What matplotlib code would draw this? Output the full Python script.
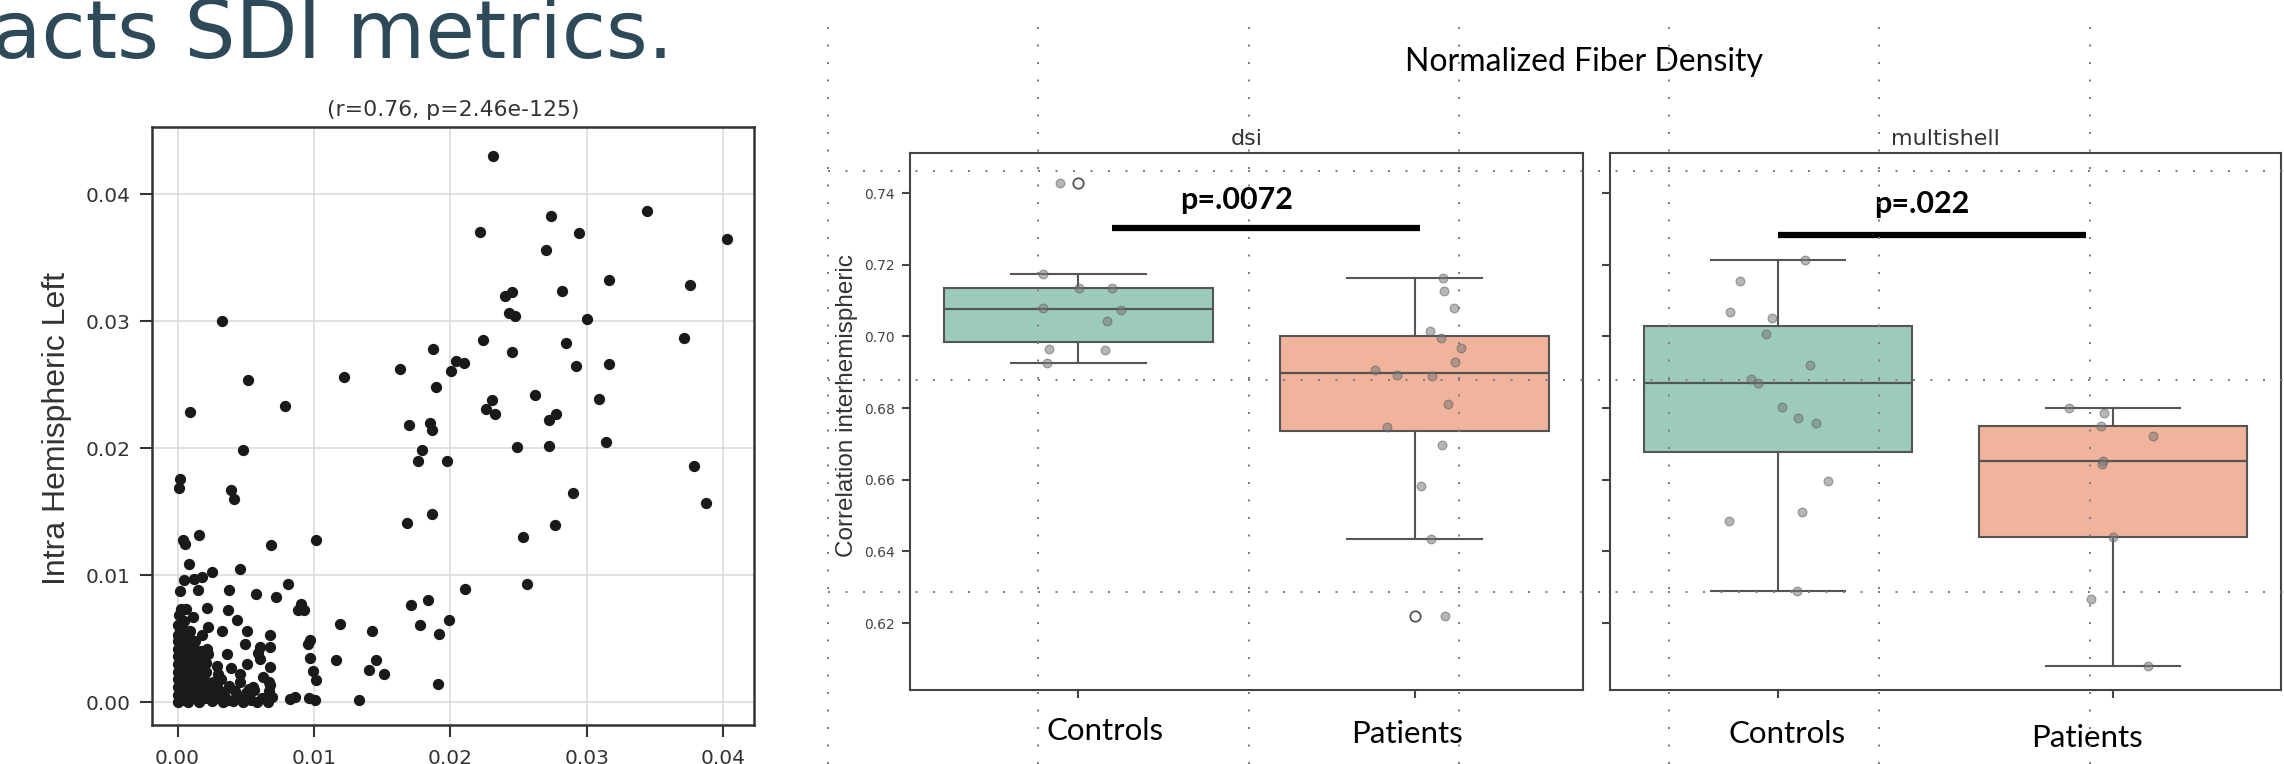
import matplotlib.pyplot as plt
from matplotlib.lines import Line2D

# ---- data ----
# scatter: spread points (x, y)
spread_pts = [
    (0.02312, 0.04302), (0.03446, 0.03868), (0.02739, 0.03831), (0.02215, 0.03706),
    (0.02944, 0.03696), (0.04029, 0.03646), (0.02705, 0.03558), (0.03161, 0.03325),
    (0.03756, 0.03288), (0.02821, 0.03238), (0.02402, 0.03198), (0.02450, 0.03233),
    (0.02428, 0.03066), (0.02477, 0.03042), (0.03004, 0.03019), (0.00329, 0.03005),
    (0.03711, 0.02868), (0.02237, 0.02855), (0.02851, 0.02831), (0.01871, 0.02783),
    (0.02454, 0.02757), (0.02039, 0.02688), (0.02103, 0.02669), (0.02005, 0.02608),
    (0.02922, 0.02648), (0.03161, 0.02661), (0.01635, 0.02622), (0.01223, 0.02561),
    (0.00516, 0.02534), (0.01893, 0.02484), (0.02619, 0.02423), (0.03094, 0.02386),
    (0.02304, 0.02382), (0.02260, 0.02308), (0.02327, 0.02268), (0.00090, 0.02282),
    (0.00786, 0.02334), (0.02727, 0.02224), (0.02776, 0.02268), (0.01698, 0.02184),
    (0.01852, 0.02197), (0.01863, 0.02145), (0.00479, 0.01987), (0.02488, 0.02013),
    (0.02727, 0.02021), (0.03139, 0.02047), (0.01792, 0.01987), (0.01766, 0.01900),
    (0.01975, 0.01903), (0.03786, 0.01863), (0.00019, 0.01755), (0.00011, 0.01684),
    (0.00389, 0.01671), (0.00412, 0.01597), (0.02899, 0.01645), (0.03872, 0.01566),
    (0.01863, 0.01482), (0.01680, 0.01408), (0.02765, 0.01395), (0.02533, 0.01297),
    (0.00041, 0.01276), (0.00056, 0.01242), (0.00161, 0.01313), (0.01018, 0.01274),
    (0.00685, 0.01240), (0.00082, 0.01092), (0.00251, 0.01026), (0.00456, 0.01050),
    (0.02559, 0.00929), (0.02110, 0.00892), (0.00812, 0.00934), (0.00050, 0.00960),
    (0.00120, 0.00966), (0.00180, 0.00982), (0.00020, 0.00874), (0.00150, 0.00880),
    (0.00380, 0.00880), (0.00576, 0.00855), (0.00722, 0.00829), (0.01837, 0.00805),
    (0.00905, 0.00771), (0.00924, 0.00729), (0.00883, 0.00724), (0.01713, 0.00768),
    (0.00026, 0.00737), (0.00064, 0.00737), (0.00217, 0.00742), (0.00370, 0.00724),
    (0.00112, 0.00671), (0.00434, 0.00645), (0.01994, 0.00650), (0.01190, 0.00618),
    (0.01777, 0.00605), (0.01429, 0.00560), (0.01915, 0.00534), (0.00329, 0.00560),
    (0.00513, 0.00560), (0.00681, 0.00526), (0.00220, 0.00592), (0.00176, 0.00526),
    (0.00020, 0.00566), (0.00973, 0.00487), (0.00954, 0.00461), (0.00494, 0.00461),
    (0.00606, 0.00434), (0.00681, 0.00434), (0.00363, 0.00382), (0.00213, 0.00421),
    (0.00969, 0.00350), (0.01163, 0.00329), (0.01459, 0.00329), (0.00606, 0.00342),
    (0.00677, 0.00276), (0.00288, 0.00284), (0.01403, 0.00250), (0.01511, 0.00218),
    (0.00991, 0.00245), (0.01018, 0.00171), (0.00456, 0.00224), (0.00318, 0.00184),
    (0.01908, 0.00145), (0.00673, 0.00158), (0.00681, 0.00132), (0.00524, 0.00105),
    (0.00561, 0.00092), (0.01328, 0.00018), (0.00823, 0.00026), (0.00860, 0.00040),
    (0.00961, 0.00034), (0.01006, 0.00013),
]
# scatter: dense group near the origin (x, y)
cluster_pts = [
    (0.0000, 0.0000), (0.0000, 0.0006), (0.0000, 0.0012), (0.0000, 0.0018), (0.0000, 0.0024),
    (0.0000, 0.0030), (0.0000, 0.0036), (0.0000, 0.0042), (0.0000, 0.0048), (0.0000, 0.0053),
    (0.0000, 0.0061), (0.0001, 0.0069),
    (0.0004, 0.0002), (0.0004, 0.0009), (0.0004, 0.0015), (0.0004, 0.0021), (0.0004, 0.0027),
    (0.0004, 0.0033), (0.0004, 0.0039), (0.0004, 0.0045), (0.0004, 0.0051), (0.0004, 0.0058),
    (0.0005, 0.0064),
    (0.0008, 0.0000), (0.0008, 0.0006), (0.0008, 0.0012), (0.0008, 0.0019), (0.0008, 0.0025),
    (0.0008, 0.0031), (0.0008, 0.0038), (0.0008, 0.0044), (0.0009, 0.0050), (0.0009, 0.0056),
    (0.0012, 0.0003), (0.0012, 0.0009), (0.0012, 0.0016), (0.0012, 0.0022), (0.0012, 0.0029),
    (0.0012, 0.0035), (0.0013, 0.0041), (0.0013, 0.0048),
    (0.0016, 0.0000), (0.0016, 0.0007), (0.0016, 0.0013), (0.0016, 0.0020), (0.0016, 0.0027),
    (0.0017, 0.0033), (0.0017, 0.0040),
    (0.0020, 0.0003), (0.0020, 0.0010), (0.0020, 0.0017), (0.0021, 0.0024), (0.0021, 0.0031),
    (0.0022, 0.0038),
    (0.0025, 0.0001), (0.0025, 0.0009), (0.0026, 0.0016), (0.0029, 0.0003), (0.0029, 0.0012),
    (0.0030, 0.0022), (0.0033, 0.0000), (0.0034, 0.0008), (0.0037, 0.0002), (0.0038, 0.0013),
    (0.0039, 0.0027), (0.0041, 0.0001), (0.0042, 0.0009), (0.0045, 0.0003), (0.0046, 0.0016),
    (0.0048, 0.0000), (0.0050, 0.0007), (0.0051, 0.0030), (0.0054, 0.0002), (0.0055, 0.0012),
    (0.0058, 0.0000), (0.0059, 0.0039), (0.0062, 0.0003), (0.0063, 0.0020), (0.0066, 0.0000),
    (0.0067, 0.0009), (0.0069, 0.0004),
]
scatter_title = "(r=0.76, p=2.46e-125)"
scatter_ticks = [0.00, 0.01, 0.02, 0.03, 0.04]

# box plots: values and horizontal jitter of the strip points
groups = ["Controls", "Patients"]
dsi_controls = [0.7427, 0.7173, 0.7136, 0.7136, 0.7078, 0.7073, 0.7043, 0.6966, 0.6961, 0.6925]
dsi_controls_jit = [-0.054, -0.106, 0.002, 0.101, -0.106, 0.127, 0.086, -0.086, 0.080, -0.092]
dsi_patients = [0.7163, 0.7127, 0.7080, 0.7014, 0.6996, 0.6968, 0.6928, 0.6905, 0.6891, 0.6889,
                0.6810, 0.6748, 0.6696, 0.6582, 0.6434, 0.6220]
dsi_patients_jit = [0.083, 0.086, 0.118, 0.045, 0.077, 0.136, 0.120, -0.117, -0.054, 0.052,
                    0.098, -0.081, 0.080, 0.019, 0.047, 0.090]
ms_controls = [0.7214, 0.7155, 0.7069, 0.7051, 0.7006, 0.6921, 0.6881, 0.6870, 0.6804, 0.6772,
               0.6758, 0.6597, 0.6511, 0.6485, 0.6289]
ms_controls_jit = [0.080, -0.112, -0.143, -0.018, -0.034, 0.095, -0.079, -0.059, 0.013, 0.061,
                   0.115, 0.150, 0.071, -0.146, 0.057]
ms_patients = [0.6800, 0.6787, 0.6751, 0.6722, 0.6653, 0.6644, 0.6441, 0.6266, 0.6080]
ms_patients_jit = [-0.131, -0.027, -0.036, 0.119, -0.031, -0.034, 0.000, -0.067, 0.104]
box_ticks = [0.62, 0.64, 0.66, 0.68, 0.70, 0.72, 0.74]
p_labels = ["p=.0072", "p=.022"]

# ---- figure ----
W, H = 2284, 764
plt.rcParams["font.family"] = "DejaVu Sans"
fig = plt.figure(figsize=(W / 100, H / 100), dpi=100)


def px_box(l, t, r, b):
    return [l / W, 1 - b / H, (r - l) / W, (b - t) / H]


# slide title (cut at the left edge, like the screenshot)
fig.text(-8 / W, 1 - 58 / H, "acts SDI metrics.", fontsize=58, color="#2e4a58",
         ha="left", va="baseline")

# scatter panel
ax = fig.add_axes(px_box(152, 127, 754, 725))
sx = [p[0] for p in spread_pts] + [p[0] for p in cluster_pts]
sy = [p[1] for p in spread_pts] + [p[1] for p in cluster_pts]
ax.scatter(sx, sy, s=66, c="#1a1a1a", linewidths=0, zorder=3)
ax.set_xlim(-0.00187, 0.04227)
ax.set_ylim(-0.0018, 0.0453)
ax.set_xticks(scatter_ticks)
ax.set_yticks(scatter_ticks)
ax.set_xticklabels([f"{t:.2f}" for t in scatter_ticks])
ax.set_yticklabels([f"{t:.2f}" for t in scatter_ticks])
ax.grid(True, color="#d9d9d9", lw=1.1, zorder=0)
ax.tick_params(length=8.5, width=1.5, color="#333333", labelsize=14.5,
               labelcolor="#333333", pad=7)
ax.tick_params(axis="x", pad=9)
for sp in ax.spines.values():
    sp.set_color("#333333")
    sp.set_linewidth(1.8)
ax.set_title(scatter_title, fontsize=15.8, color="#333333", pad=8)
fig.text(57 / W, 1 - 428 / H, "Intra Hemispheric Left", rotation=90, ha="center",
         va="center", fontsize=23, family="Liberation Sans", color="#333333")

# box plot panels
green, orange = "#9dcbbb", "#f0b39b"
edge = "#555555"
panels = [
    ("dsi", px_box(910, 153, 1583, 690), [dsi_controls, dsi_patients],
     [dsi_controls_jit, dsi_patients_jit]),
    ("multishell", px_box(1610, 153, 2281, 690), [ms_controls, ms_patients],
     [ms_controls_jit, ms_patients_jit]),
]
p_pos = [((0.469, 0.7355), (0.10, 1.015, 0.7303)),
         ((0.43, 0.7345), (0.0, 0.92, 0.7284))]

for i, (name, rect, data, jits) in enumerate(panels):
    bx = fig.add_axes(rect)
    bp = bx.boxplot(data, positions=[0, 1], widths=0.8, capwidths=0.4, patch_artist=True,
                    whis=1.5,
                    boxprops=dict(edgecolor=edge, linewidth=1.5),
                    medianprops=dict(color=edge, linewidth=1.6),
                    whiskerprops=dict(color=edge, linewidth=1.5),
                    capprops=dict(color=edge, linewidth=1.5),
                    flierprops=dict(marker="o", markerfacecolor="none",
                                    markeredgecolor=edge, markersize=7.5,
                                    markeredgewidth=1.3))
    for patch, col in zip(bp["boxes"], [green, orange]):
        patch.set_facecolor(col)
    for k, (vals, jit) in enumerate(zip(data, jits)):
        bx.scatter([k + j for j in jit], vals, s=40, color="#7a7a7a", alpha=0.55,
                   edgecolors="#5a5a5a", linewidths=0.8, zorder=4)
    bx.set_xlim(-0.5, 1.5)
    bx.set_ylim(0.6013, 0.7512)
    bx.set_xticks([0, 1])
    bx.set_xticklabels([])
    bx.set_yticks(box_ticks)
    if i == 0:
        bx.set_yticklabels([f"{t:.2f}" for t in box_ticks])
        bx.set_ylabel("Correlation interhemispheric", fontsize=17.5,
                      family="Liberation Sans", color="#333333")
        bx.yaxis.set_label_coords(-0.078, 0.53)
    else:
        bx.set_yticklabels([])
    bx.tick_params(length=6, width=1.5, color="#444444", labelsize=10,
                   labelcolor="#444444", pad=5)
    for sp in bx.spines.values():
        sp.set_color("#444444")
        sp.set_linewidth(1.5)
    bx.set_title(name, fontsize=16, color="#333333", pad=6)
    (tx, ty), (x0, x1, yb) = p_pos[i]
    bx.text(tx, ty, p_labels[i], ha="center", va="baseline", fontsize=22,
            family="Lato", fontweight="bold", color="black")
    bx.plot([x0, x1], [yb, yb], color="black", lw=4.5, solid_capstyle="butt")

fig.text(1584 / W, 1 - 71 / H, "Normalized Fiber Density", ha="center", va="baseline",
         fontsize=23, family="Lato", color="black")
for label, cx, base in zip(groups * 2, [1105, 1407, 1787, 2087], [740, 743, 743, 747]):
    fig.text(cx / W, 1 - base / H, label, ha="center", va="baseline", fontsize=22.5,
             family="Lato", color="black")

# slide guide lines (dotted)
dots = dict(ls=(0, (1, 7.75)), lw=1.44, color="#7f7f7f", transform=fig.transFigure,
            zorder=10)
for gx in [828, 1038, 1249, 1459, 1669, 1879, 2090]:
    fig.add_artist(Line2D([gx / W, gx / W], [0, 1 - 12 / H], **dots))
for gy in [171, 380, 592]:
    fig.add_artist(Line2D([828 / W, 1], [1 - gy / H, 1 - gy / H], **dots))

fig.savefig("out.png", dpi=100)
